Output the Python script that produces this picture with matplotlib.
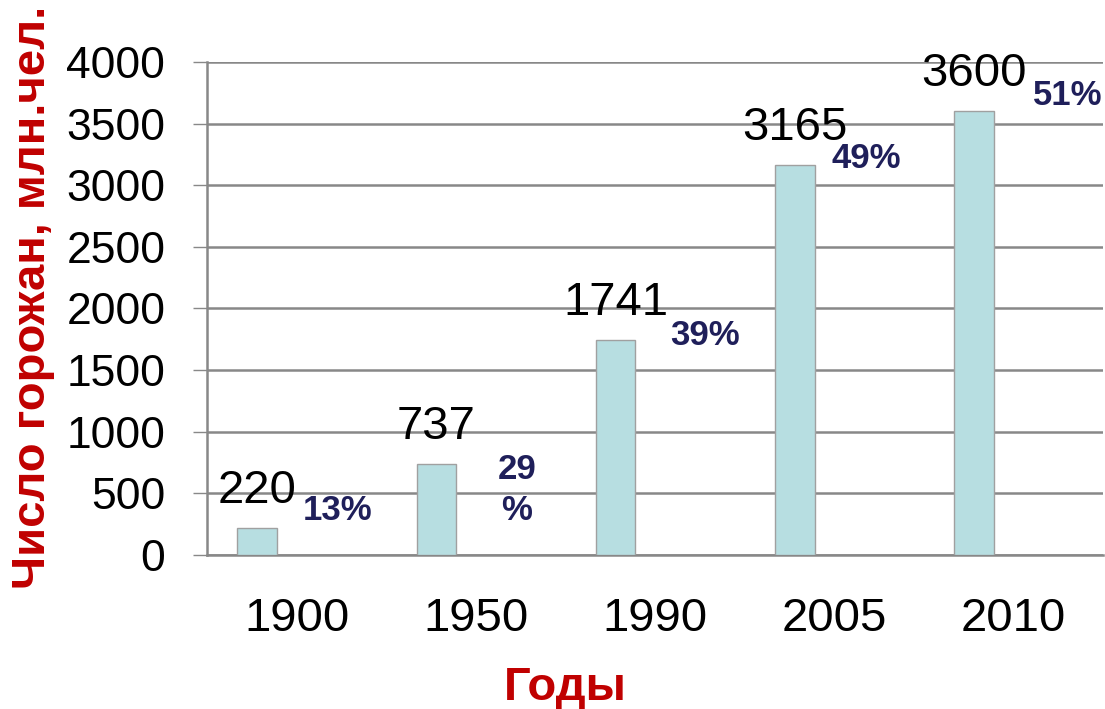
import matplotlib.pyplot as plt
import numpy as np

plt.rcParams['font.family'] = ['Liberation Sans', 'DejaVu Sans']

# data
years = ['1900', '1950', '1990', '2005', '2010']
citizens = [220, 737, 1741, 3165, 3600]
shares = ['13%', '29\n%', '39%', '49%', '51%']
# where the share labels sit (x in category units, y in data units)
share_x = [0.23, 0.23, 0.28, 0.18, 0.38]
share_y = [365, 527, 1784, 3220, 3730]

fig = plt.figure(figsize=(11.05, 7.09), dpi=100)
ax = fig.add_axes([0.1873, 0.2172, 0.811, 0.6954])

x = np.arange(len(years))
ax.bar(x - 0.22, citizens, width=0.22, color='#B7DEE1', edgecolor='#A0A0A0',
       linewidth=1, zorder=3)

# value labels above bars
for xi, v in zip(x, citizens):
    ax.text(xi - 0.22, v + 300, str(v), ha='center', va='center',
            fontsize=34, color='black', zorder=4)

# share of urban population
for xi, s, dx, y in zip(x, shares, share_x, share_y):
    if xi == len(years) - 1:
        ax.text(4.495, y, s, ha='right', va='center', fontsize=25,
                fontweight='bold', color='#1F1F5A', zorder=4)
    else:
        ax.text(xi + dx, y, s, ha='center', va='center', fontsize=25,
                fontweight='bold', color='#1F1F5A', linespacing=1.3, zorder=4)

ax.set_xlim(-0.5, 4.5)
ax.set_ylim(0, 4000)
ax.set_yticks(np.arange(0, 4001, 500))
ax.set_xticks(x)
ax.set_xticklabels(years)
ax.tick_params(axis='y', labelsize=32, length=10, width=1, color='#888888', pad=20)
ax.tick_params(axis='x', labelsize=34, length=0, pad=30)

ax.grid(axis='y', color='#888888', linewidth=1.8, zorder=0)
for side in ['top', 'right']:
    ax.spines[side].set_visible(False)
for side in ['left', 'bottom']:
    ax.spines[side].set_color('#888888')
    ax.spines[side].set_linewidth(1.8)

fig.text(0.03, 0.58, 'Число горожан, млн.чел.', rotation=90, ha='center',
         va='center', fontsize=34, fontweight='bold', color='#C00000')
fig.text(0.512, 0.03, 'Годы', ha='center', va='center', fontsize=34,
         fontweight='bold', color='#C00000')

plt.savefig('out.png', dpi=100)
